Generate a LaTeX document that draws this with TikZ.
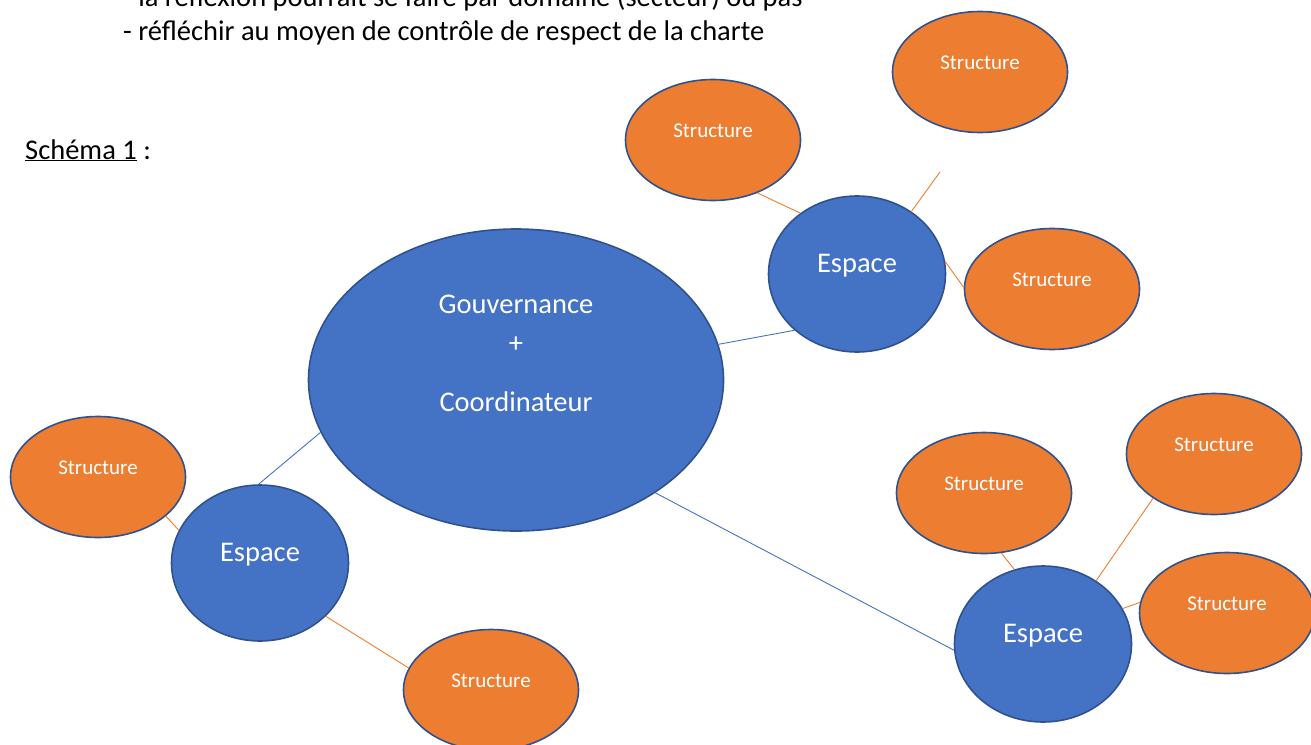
\documentclass[tikz,border=0pt]{standalone}
\usepackage{fontspec}
\setmainfont{Carlito}
\usepackage{xcolor}
\usetikzlibrary{shapes.geometric}

\definecolor{bleu}{HTML}{4472C4}
\definecolor{bleufonce}{HTML}{2F528F}
\definecolor{orangeoff}{HTML}{ED7D31}

\begin{document}
\begin{tikzpicture}[x=1pt,y=-1pt,
  espace/.style={ellipse,draw=bleufonce,line width=1.6pt,fill=bleu,
    minimum width=177pt,minimum height=156pt,inner sep=0pt},
  structure/.style={ellipse,draw=bleufonce,line width=1.6pt,fill=orangeoff,
    minimum width=175pt,minimum height=121pt,inner sep=0pt},
  corps/.style={anchor=base west,inner sep=0pt,font=\fontsize{28.5}{34}\selectfont},
  gros/.style={anchor=base,inner sep=0pt,text=white,font=\fontsize{28.5}{34}\selectfont},
  petit/.style={anchor=base,inner sep=0pt,text=white,font=\fontsize{21}{25}\selectfont},
  lien/.style={orangeoff,line width=0.9pt},
  lienb/.style={bleu,line width=0.9pt}]

  % Cadre de la page
  \useasboundingbox (0,0) rectangle (1311,744);
  \clip (0,0) rectangle (1311,744);

  % Texte au-dessus du schéma
  \node[corps] (ligneA) at (123,6) {- la réflexion pourrait se faire par domaine (secteur) ou pas};
  \node[corps] (ligneB) at (123,40) {- réfléchir au moyen de contrôle de respect de la charte};
  \node[corps] (titre) at (25,159) {\underline{Schéma 1} :};

  % Ellipse centrale
  \node[ellipse,draw=bleufonce,line width=1.6pt,fill=bleu,minimum width=415pt,
    minimum height=302pt,inner sep=0pt] (gouv) at (516,380) {};
  \node[gros] (gouvA) at ([yshift=67pt]gouv.center) {Gouvernance};
  \node[gros] (gouvB) at ([yshift=28pt]gouv.center) {+};
  \node[gros] (gouvC) at ([yshift=-31pt]gouv.center) {Coordinateur};

  % Espaces
  \node[espace] (espH) at (857,274) {};
  \node[espace] (espG) at (260,563) {};
  \node[espace] (espD) at (1043,644) {};
  \foreach \e in {espH,espG,espD}
    \node[gros] (\e txt) at ([yshift=2pt]\e.center) {Espace};

  % Structures
  \node[structure] (stA) at (713,140) {};
  \node[structure] (stB) at (980,72) {};
  \node[structure] (stC) at (1052,289) {};
  \node[structure] (stD) at (98,477) {};
  \node[structure] (stE) at (491,690) {};
  \node[structure] (stF) at (984,493) {};
  \node[structure] (stG) at (1214,454) {};
  \node[structure] (stH) at (1227,613) {};
  \foreach \s in {stA,stB,stC,stD,stE,stF,stG,stH}
    \node[petit] (\s txt) at ([yshift=3pt]\s.center) {Structure};

  % Liens bleus
  \draw[lienb] (gouv.10) -- (espH.222);
  \draw[lienb] (gouv.195) -- (espG.91);
  \draw[lienb] (gouv.321) -- (espD.184);

  % Liens orange
  \coordinate (bout) at (940,172);
  \draw[lien] (espH.133) -- (stA.310);
  \draw[lien] (espH.49) -- (bout);
  \draw[lien] (espH.8) -- (stC.179);
  \draw[lien] (stD.330) -- (espG.158);
  \draw[lien] (espG.321) -- (stE.165);
  \draw[lien] (stF.286) -- (espD.111);
  \draw[lien] (espD.50) -- (stG.216);
  \draw[lien] (espD.24) -- (stH.173);
\end{tikzpicture}
\end{document}
